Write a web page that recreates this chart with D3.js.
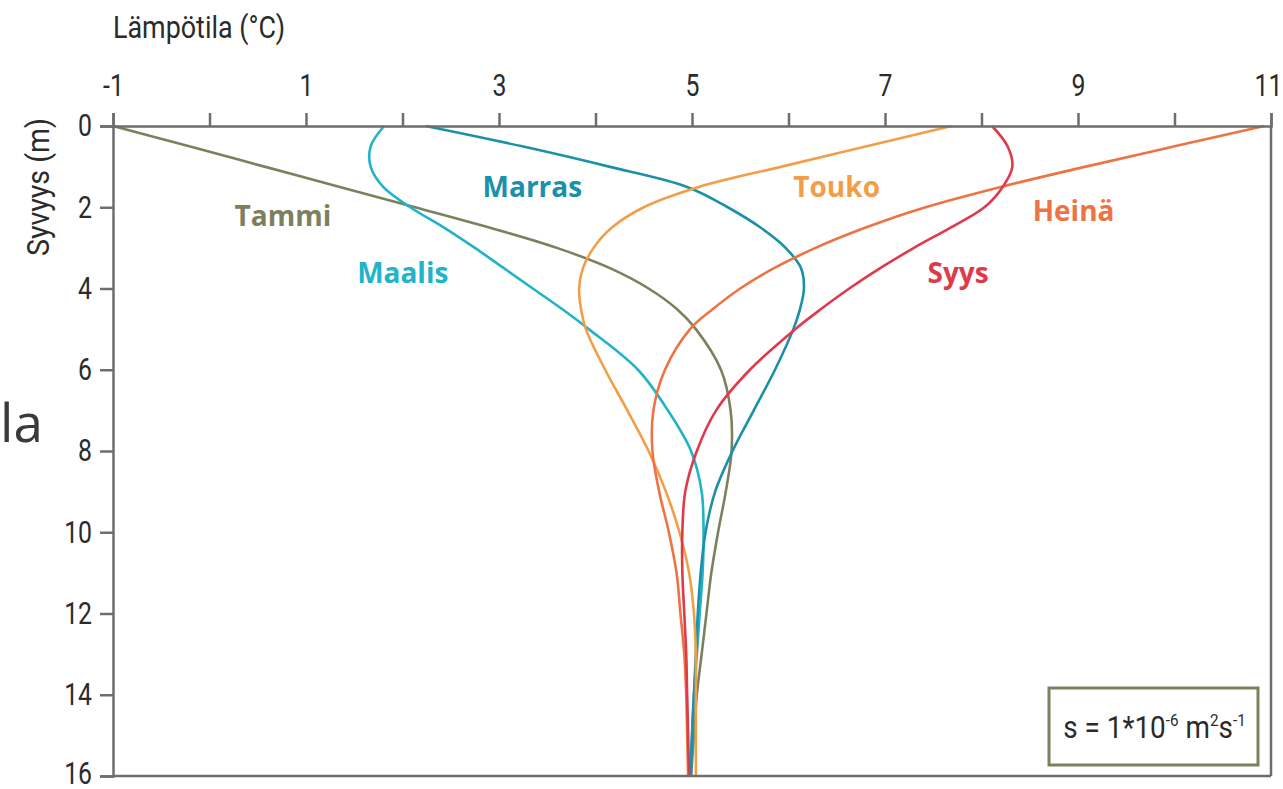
<!DOCTYPE html>
<html>
<head>
<meta charset="utf-8">
<script src="https://cdn.jsdelivr.net/npm/d3@7"></script>
<style>
  body { margin: 0; background: #fff; }
  svg { display: block; }
</style>
</head>
<body>
<svg id="chart" width="1283" height="789"></svg>
<script>
// ---- data ----
const depths = [0, 0.5, 1, 1.5, 2, 2.5, 3, 3.5, 4, 4.5, 5, 6, 7, 8, 9, 10, 11, 12, 13, 14, 15, 16];
const tammi  = [-1.0, -0.21, 0.57, 1.35, 2.13, 2.9, 3.6, 4.15, 4.55, 4.84, 5.04, 5.3, 5.4, 5.41, 5.35, 5.27, 5.2, 5.15, 5.1, 5.05, 5.02, 4.99];
const maalis = [1.81, 1.67, 1.67, 1.8, 2.08, 2.43, 2.75, 3.05, 3.35, 3.65, 3.93, 4.44, 4.75, 4.99, 5.1, 5.12, 5.11, 5.08, 5.05, 5.02, 5.0, 4.98];
const marras = [2.24, 3.24, 4.14, 4.95, 5.37, 5.71, 5.97, 6.13, 6.16, 6.12, 6.05, 5.86, 5.64, 5.42, 5.24, 5.14, 5.09, 5.06, 5.04, 5.02, 5.0, 4.99];
const touko  = [7.69, 6.81, 5.93, 5.07, 4.5, 4.17, 3.98, 3.87, 3.83, 3.85, 3.9, 4.1, 4.33, 4.55, 4.73, 4.87, 4.97, 5.02, 5.04, 5.04, 5.04, 5.04];
const heina  = [10.93, 10.0, 9.08, 8.2, 7.42, 6.8, 6.28, 5.85, 5.5, 5.22, 4.98, 4.72, 4.6, 4.59, 4.66, 4.76, 4.84, 4.88, 4.92, 4.94, 4.95, 4.96];
const syys   = [8.11, 8.27, 8.32, 8.22, 8.03, 7.68, 7.3, 6.95, 6.63, 6.34, 6.07, 5.6, 5.25, 5.05, 4.93, 4.9, 4.9, 4.92, 4.94, 4.95, 4.96, 4.97];

const seriesNames  = ["Tammi", "Maalis", "Marras", "Touko", "Heinä", "Syys"];
const seriesValues = [tammi, maalis, marras, touko, heina, syys];
const seriesColors = ["#7d805e", "#21b3ca", "#1a91a9", "#f29e48", "#ee7344", "#df3a4b"];
// label anchor positions in data units (temperature, depth)
const labelTemps  = [0.26, 1.53, 2.83, 6.05, 8.53, 7.44];
const labelDepths = [2.45, 3.87, 1.75, 1.75, 2.33, 3.87];

const xTickValues = d3.range(-1, 12, 1);
const xTickLabels = [-1, 1, 3, 5, 7, 9, 11];
const yTickValues = [0, 2, 4, 6, 8, 10, 12, 14, 16];

const xTitle = "Lämpötila (°C)";
const yTitle = "Syvyys (m)";

// ---- layout ----
const svg = d3.select("#chart");
const x = d3.scaleLinear().domain([-1, 11]).range([113, 1271]);
const y = d3.scaleLinear().domain([0, 16]).range([126, 776]);
const axisColor = "#6e6e6e";
const textColor = "#2b2b2b";
const condFont = "Roboto, 'Liberation Sans', sans-serif";
const cond = 0.8; // horizontal condensation

// curves
const line = d3.line()
  .x(d => x(d[1]))
  .y(d => y(d[0]))
  .curve(d3.curveCatmullRom.alpha(0.5));

seriesValues.forEach((vals, i) => {
  svg.append("path")
    .datum(depths.map((dp, j) => [dp, vals[j]]))
    .attr("d", line)
    .attr("fill", "none")
    .attr("stroke", seriesColors[i])
    .attr("stroke-width", 2.6)
    .attr("stroke-linejoin", "round");
});

// frame: right and bottom
svg.append("line").attr("x1", x(11)).attr("x2", x(11)).attr("y1", y(0)).attr("y2", y(16))
  .attr("stroke", axisColor).attr("stroke-width", 2.5);
svg.append("line").attr("x1", x(-1)).attr("x2", x(11)).attr("y1", y(16)).attr("y2", y(16))
  .attr("stroke", axisColor).attr("stroke-width", 2.5);

// top axis
const gx = svg.append("g")
  .attr("transform", `translate(0,${y(0)})`)
  .call(d3.axisTop(x)
    .tickValues(xTickValues)
    .tickSize(13)
    .tickSizeOuter(13)
    .tickPadding(17)
    .tickFormat(d => xTickLabels.includes(d) ? String(d) : ""));

// left axis
const gy = svg.append("g")
  .attr("transform", `translate(${x(-1)},0)`)
  .call(d3.axisLeft(y)
    .tickValues(yTickValues)
    .tickSize(13)
    .tickSizeOuter(13)
    .tickPadding(8)
    .tickFormat(d => String(d)));

[gx, gy].forEach(g => {
  g.selectAll("path, line").attr("stroke", axisColor).attr("stroke-width", 2.5);
  g.selectAll("text").attr("fill", textColor).attr("font-size", 31)
    .attr("font-family", condFont);
});
gx.selectAll("text").attr("transform", d => `translate(${d === 11 ? -3 : 0},0) scale(${cond},1)`);
gy.selectAll("text").attr("x", -21 / cond)
  .attr("transform", d => `translate(0,${d === 16 ? -2 : 0}) scale(${cond},1)`);

// axis titles
svg.append("text")
  .attr("x", x(-1)).attr("y", 38)
  .attr("font-size", 32)
  .attr("font-family", condFont)
  .attr("textLength", 172).attr("lengthAdjust", "spacingAndGlyphs")
  .attr("fill", textColor)
  .text(xTitle);

svg.append("text")
  .attr("transform", `translate(49,${y(0) + 61}) rotate(-90)`)
  .attr("text-anchor", "middle")
  .attr("font-size", 31)
  .attr("font-family", condFont)
  .attr("textLength", 138).attr("lengthAdjust", "spacingAndGlyphs")
  .attr("fill", textColor)
  .text(yTitle);

// series labels
seriesNames.forEach((name, i) => {
  svg.append("text")
    .attr("x", x(labelTemps[i]))
    .attr("y", y(labelDepths[i]))
    .attr("font-family", '"Open Sans", "Noto Sans", sans-serif')
    .attr("font-weight", "bold")
    .attr("font-size", 28)
    .attr("fill", seriesColors[i])
    .text(name);
});

// stray slide text at left
svg.append("text")
  .attr("x", 0).attr("y", 442)
  .attr("font-family", '"Open Sans", "Noto Sans", sans-serif')
  .attr("font-size", 53)
  .attr("fill", "#3a3a3a")
  .text("la");

// parameter box
const boxW = 209, boxH = 77;
const boxX = x(11) - 13 - boxW, boxY = y(16) - 11 - boxH;
svg.append("rect")
  .attr("x", boxX).attr("y", boxY).attr("width", boxW).attr("height", boxH)
  .attr("fill", "#fff").attr("stroke", "#7d805e").attr("stroke-width", 3);

const t = svg.append("text")
  .attr("transform", `translate(${boxX + boxW / 2 + 1},${boxY + boxH / 2 + 11}) scale(0.9,1)`)
  .attr("text-anchor", "middle")
  .attr("font-size", 31)
  .attr("font-family", condFont)
  .attr("fill", textColor);
t.append("tspan").text("s = 1*10");
t.append("tspan").attr("dy", -12).attr("font-size", 17).text("-6");
t.append("tspan").attr("dy", 12).text(" m");
t.append("tspan").attr("dy", -12).attr("font-size", 17).text("2");
t.append("tspan").attr("dy", 12).text("s");
t.append("tspan").attr("dy", -12).attr("font-size", 17).text("-1");
</script>
</body>
</html>
